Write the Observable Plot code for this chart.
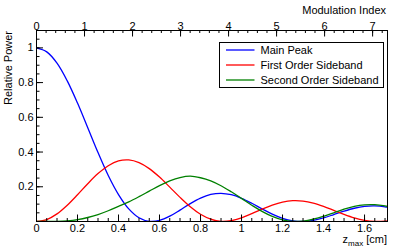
<!DOCTYPE html>
<html><head><meta charset="utf-8">
<script src="https://cdn.jsdelivr.net/npm/d3@7"></script>
<script src="https://cdn.jsdelivr.net/npm/@observablehq/plot@0.6"></script>
<style>body{margin:0;background:#fff;} #chart{width:399px;height:249px;}</style>
</head><body><div id="chart"></div>
<script>
// z_max [cm] sample positions
const zmax = [0,0.05,0.10,0.15,0.20,0.25,0.30,0.35,0.40,0.45,0.50,0.55,0.60,0.65,0.70,0.75,0.80,0.85,0.90,0.95,1.00,1.05,1.10,1.15,1.20,1.25,1.30,1.35,1.40,1.45,1.50,1.55,1.60,1.65,1.70,1.75];
const mainPeak = [1,0.977,0.912,0.810,0.682,0.540,0.397,0.265,0.155,0.0725,0.0215,0.0009,0.0062,0.0306,0.0657,0.103,0.1348,0.1557,0.1622,0.1541,0.1335,0.1052,0.073,0.0427,0.0185,0.0039,0.0001,0.0065,0.0209,0.0399,0.0596,0.0763,0.087,0.0895,0.0847,0.0725];
const firstOrder = [0,0.0114,0.0441,0.0939,0.1541,0.2178,0.2759,0.3212,0.3491,0.3547,0.3391,0.3046,0.2558,0.1978,0.1388,0.0848,0.0416,0.0131,0.0004,0.0048,0.0212,0.0449,0.0711,0.0948,0.1121,0.1201,0.1179,0.1062,0.0872,0.0642,0.0407,0.0205,0.0064,0.0002,0.0022,0.011];
const secondOrder = [0,0.0001,0.0008,0.004,0.011,0.023,0.040,0.062,0.087,0.113,0.143,0.175,0.207,0.234,0.253,0.261,0.252,0.234,0.206,0.171,0.133,0.094,0.058,0.029,0.009,0.0003,0.0024,0.013,0.030,0.050,0.071,0.087,0.096,0.097,0.090,0.078];

const seriesNames = ["Main Peak", "First Order Sideband", "Second Order Sideband"];
const seriesColors = ["#0000ff", "#ff0000", "#008000"];
const seriesValues = [mainPeak, firstOrder, secondOrder];

const zTicks = [0, 0.2, 0.4, 0.6, 0.8, 1, 1.2, 1.4, 1.6];
const yTicks = [0.2, 0.4, 0.6, 0.8, 1];
const mTicks = [0, 1, 2, 3, 4, 5, 6, 7];
const cmPerIndex = 0.2342; // z_max [cm] per unit of modulation index

const W = 399, H = 249, mL = 36, mR = 12, mT = 30, mB = 28;
const xMax = 1.712, yMax = 1.1;
const pxX = xMax / (W - mL - mR), pxY = yMax / (H - mT - mB);

const zMinor = d3.range(0, 1.7001, 0.05).map(v => +v.toFixed(2));
const yMinor = d3.range(0.05, 1.0501, 0.05).map(v => +v.toFixed(2));
const mMinor = d3.range(0, 7.3, 0.2).map(v => +v.toFixed(1));

const font = "'Liberation Sans', Arial, Helvetica, sans-serif";

const plot = Plot.plot({
  width: W, height: H,
  marginLeft: mL, marginRight: mR, marginTop: mT, marginBottom: mB,
  style: {fontFamily: font, fontSize: "11px", color: "#000", background: "#fff", overflow: "visible"},
  x: {domain: [0, xMax]},
  y: {domain: [0, yMax]},
  marks: [
    ...seriesValues.map((vals, k) => Plot.line(zmax, {
      x: d => d, y: (d, i) => vals[i], stroke: seriesColors[k], strokeWidth: 1.3,
      curve: "catmull-rom", clip: true
    })),
    Plot.frame({stroke: "#000", strokeWidth: 1}),
    // bottom ticks
    Plot.ruleX(zMinor, {x: d => d, y1: 0, y2: 3 * pxY, stroke: "#000"}),
    Plot.ruleX(zTicks, {x: d => d, y1: 0, y2: 6.5 * pxY, stroke: "#000"}),
    // top ticks
    Plot.ruleX(mMinor.map(m => m * cmPerIndex), {x: d => d, y1: yMax, y2: yMax - 3 * pxY, stroke: "#000"}),
    Plot.ruleX(mTicks.map(m => m * cmPerIndex), {x: d => d, y1: yMax, y2: yMax - 6.5 * pxY, stroke: "#000"}),
    // left ticks
    Plot.ruleY(yMinor, {y: d => d, x1: 0, x2: 3.5 * pxX, stroke: "#000"}),
    Plot.ruleY(yTicks, {y: d => d, x1: 0, x2: 7 * pxX, stroke: "#000"}),
    Plot.axisX(zTicks, {anchor: "bottom", tickSize: 0, tickPadding: 3, tickFormat: d => String(d), label: null}),
    Plot.axisX(mTicks.map(m => m * cmPerIndex), {anchor: "top", tickSize: 0, tickPadding: 1, tickFormat: d => String(Math.round(d / cmPerIndex)), label: null}),
    Plot.axisY(yTicks, {anchor: "left", tickSize: 0, tickPadding: 3, tickFormat: d => String(d), label: null})
  ]
});

const svg = d3.select(plot);
const x0 = mL, x1 = W - mR, y0 = mT, y1 = H - mB;

// axis titles
svg.append("text").attr("transform", `translate(11.5,${y0 + 1}) rotate(-90)`)
  .attr("text-anchor", "end").attr("font-family", font).attr("font-size", 11).attr("fill", "#000")
  .text("Relative Power");
svg.append("text").attr("x", x1 - 1).attr("y", 13.5)
  .attr("text-anchor", "end").attr("font-family", font).attr("font-size", 11).attr("fill", "#000")
  .text("Modulation Index");
const zt = svg.append("text").attr("x", x1).attr("y", 243.3)
  .attr("text-anchor", "end").attr("font-family", font).attr("font-size", 11).attr("fill", "#000");
zt.append("tspan").text("z");
zt.append("tspan").attr("font-size", 8).attr("dy", 2.5).text("max");
zt.append("tspan").attr("dy", -2.5).text(" [cm]");

// legend
const lg = svg.append("g").attr("text-anchor", "start");
const lx = 219.5, ly = 42.5, lw = 164, lh = 45;
lg.append("rect").attr("x", lx).attr("y", ly).attr("width", lw).attr("height", lh)
  .attr("fill", "#fff").attr("stroke", "#000").attr("stroke-width", 1);
seriesNames.forEach((name, k) => {
  const cy = ly + lh * (2 * k + 1) / 6;
  lg.append("line").attr("x1", lx + 6.5).attr("x2", lx + 35).attr("y1", cy).attr("y2", cy)
    .attr("stroke", seriesColors[k]).attr("stroke-width", 1.3);
  lg.append("text").attr("x", lx + 41).attr("y", cy).attr("dy", "0.35em")
    .attr("text-anchor", "start")
    .attr("font-family", font).attr("font-size", 11).attr("fill", "#000").text(name);
});

document.getElementById("chart").appendChild(plot);
</script>
</body></html>
